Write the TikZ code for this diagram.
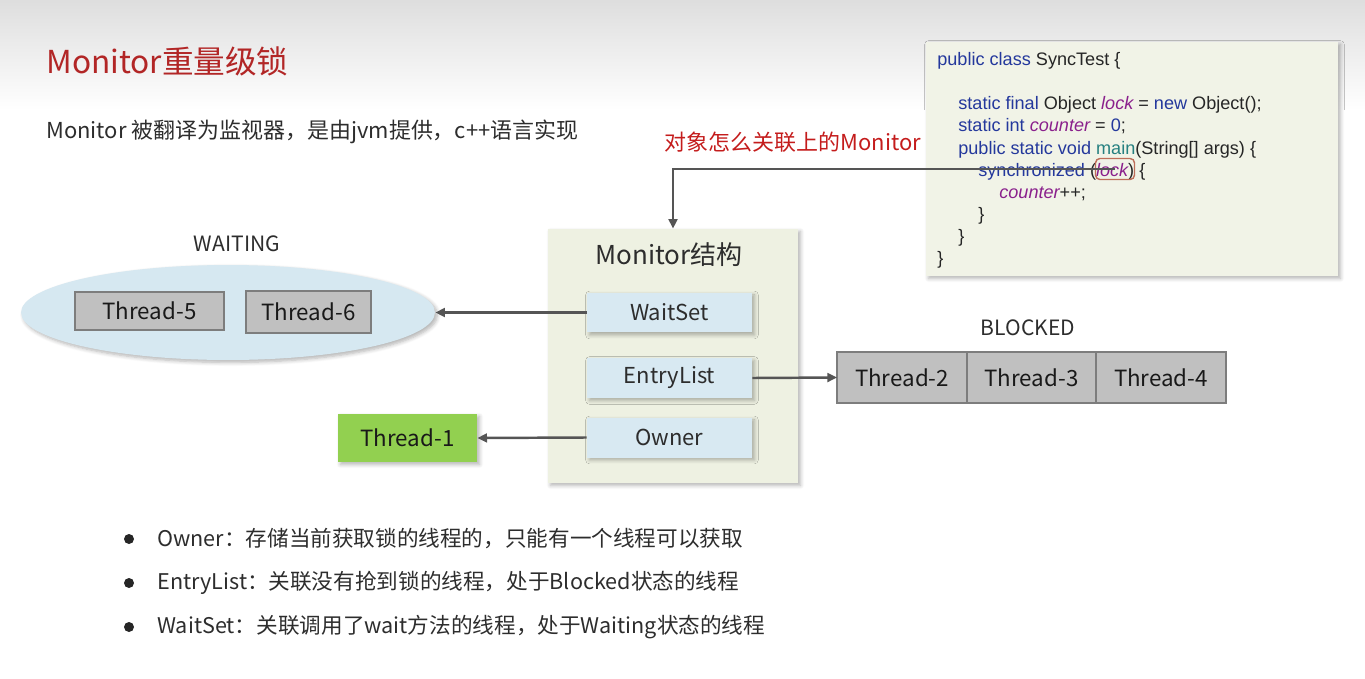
\documentclass[tikz,border=0pt]{standalone}
\usepackage{fontspec}
\setmainfont{Noto Sans CJK SC}
\newfontfamily\codefont{Liberation Sans}
\usepackage{tikz}
\usetikzlibrary{arrows.meta,positioning,shapes.geometric,shadows.blur}
\definecolor{titlered}{RGB}{178,38,38}
\definecolor{notered}{RGB}{196,28,28}
\definecolor{textgray}{RGB}{45,45,45}
\definecolor{panelbg}{RGB}{238,241,226}
\definecolor{codebg}{RGB}{241,243,231}
\definecolor{cellblue}{RGB}{216,233,242}
\definecolor{ovalblue}{RGB}{214,232,241}
\definecolor{threadgray}{RGB}{192,192,192}
\definecolor{threadedge}{RGB}{125,125,125}
\definecolor{ownergreen}{RGB}{146,208,80}
\definecolor{linkgray}{RGB}{85,85,85}
\definecolor{kwblue}{RGB}{36,56,156}
\definecolor{varpurple}{RGB}{138,32,140}
\definecolor{fnteal}{RGB}{38,128,128}
\definecolor{lockedge}{RGB}{190,110,90}
\newcommand{\codekw}[1]{\textcolor{kwblue}{#1}}
\newcommand{\codevar}[1]{\textcolor{varpurple}{\itshape #1}}
\newcommand{\codefn}[1]{\textcolor{fnteal}{#1}}
\tikzset{
  softshadow/.style={blur shadow={shadow xshift=1.4pt,shadow yshift=-1.4pt,shadow blur steps=6,shadow opacity=30}},
  panel/.style={rectangle,fill=panelbg,softshadow,inner sep=0pt},
  cell/.style={rectangle,fill=cellblue,softshadow,minimum width=3.3cm,minimum height=0.8cm,font=\fontsize{12.5}{14}\selectfont,text=textgray},
  thread/.style={rectangle,fill=threadgray,draw=threadedge,line width=1.3pt,inner sep=0pt,outer sep=0pt,font=\fontsize{12.7}{14}\selectfont,text=black!90},
  conn/.style={-{Triangle[length=5.5pt,width=5pt]},line width=1.4pt,draw=linkgray},
  codeline/.style={anchor=base west,inner sep=0pt,font=\codefont\fontsize{10.3}{12}\selectfont,text=black!85},
  bullet/.style={circle,fill=black!85,inner sep=0pt,minimum size=0.2cm},
  bullettext/.style={anchor=west,inner sep=0pt,font=\fontsize{12.3}{14}\selectfont,text=textgray},
  statelabel/.style={font=\fontsize{12}{14}\selectfont,text=textgray}
}

\begin{document}
\begin{tikzpicture}[x=0.02cm,y=-0.02cm]
\useasboundingbox (0,0) rectangle (1365,679);
\fill[top color=black!13,bottom color=white] (0,0) rectangle (1365,110);

\node[anchor=west,inner sep=0pt,font=\fontsize{18}{20}\selectfont,text=titlered] (title) at (46,61) {Monitor重量级锁};
\node[anchor=west,inner sep=0pt,font=\fontsize{12.5}{14}\selectfont,text=textgray] (subtitle) at (46,132) {Monitor 被翻译为监视器，是由jvm提供，c++语言实现};

% code panel
\node[panel,fill=codebg,minimum width=8.24cm,minimum height=4.68cm] (codebox) at (1132,159) {};
\node[codeline] (c1) at (937,66) {\codekw{public class} SyncTest \{};
\node[codeline] (c2) at (958,110) {\codekw{static final} Object \codevar{lock} = \codekw{new} Object();};
\node[codeline] (c3) at (958,132) {\codekw{static int} \codevar{counter} = \codekw{0};};
\node[codeline] (c4) at (958,154) {\codekw{public static void} \codefn{main}(String[] args) \{};
\node[codeline] (c5) at (978,176) {\codekw{synchronized} (\codevar{lock}) \{};
\node[codeline] (c6) at (999,198) {\codevar{counter}++;};
\node[codeline] (c7) at (978,220) {\}};
\node[codeline] (c8) at (958,242) {\}};
\node[codeline] (c9) at (937,264) {\}};
\node[draw=lockedge,line width=0.8pt,rounded corners=2.5pt,minimum width=0.78cm,minimum height=0.42cm,inner sep=0pt] (lockbox) at (1115,169) {};

\node[font=\fontsize{12.5}{14}\selectfont,text=notered] (linknote) at (793,142) {对象怎么关联上的Monitor};

% monitor
\node[panel,minimum width=5cm,minimum height=5.08cm] (monitor) at (673,356) {};
\node[font=\fontsize{14.8}{16}\selectfont,text=textgray] (mtitle) at (669,255) {Monitor结构};
\node[cell] (waitset) at (669.5,312.5) {WaitSet};
\node[cell] (entrylist) at (669.5,378) {EntryList};
\node[cell] (owner) at (669.5,437.5) {Owner};

% waiting
\node[statelabel] (waiting) at (237,244) {WAITING};
\node[ellipse,fill=ovalblue,softshadow,minimum width=8.28cm,minimum height=1.9cm,inner sep=0pt] (waitoval) at (228,312.5) {};
\node[thread,minimum width=2.98cm,minimum height=0.76cm] (t5) at (149.5,311) {Thread-5};
\node[thread,minimum width=2.5cm,minimum height=0.84cm] (t6) at (308.5,312) {Thread-6};

% owner
\node[rectangle,fill=ownergreen,softshadow,minimum width=2.78cm,minimum height=0.96cm,font=\fontsize{12.7}{14}\selectfont,text=black!90] (t1) at (407.5,438) {Thread-1};

% blocked
\node[statelabel] (blocked) at (1028,328) {BLOCKED};
\node[thread,minimum width=2.6cm,minimum height=1.02cm] (t2) at (902,377.5) {Thread-2};
\node[thread,minimum width=2.58cm,minimum height=1.02cm,right=0pt of t2] (t3) {Thread-3};
\node[thread,minimum width=2.6cm,minimum height=1.02cm,right=0pt of t3] (t4) {Thread-4};

\draw[conn] (lockbox.center) -| (monitor.north);
\draw[conn] (waitset.west) -- (waitoval.east);
\draw[conn] (entrylist.east) -- (t2.west);
\draw[conn] (owner.west) -- (t1.east);

\foreach \i/\y/\txt in {1/539/{Owner：存储当前获取锁的线程的，只能有一个线程可以获取},
                        2/583/{EntryList：关联没有抢到锁的线程，处于Blocked状态的线程},
                        3/627/{WaitSet：关联调用了wait方法的线程，处于Waiting状态的线程}}{
  \node[bullet] (b\i) at (129,\y) {};
  \node[bullettext] (bt\i) at (157,\y) {\txt};
}
\end{tikzpicture}
\end{document}
